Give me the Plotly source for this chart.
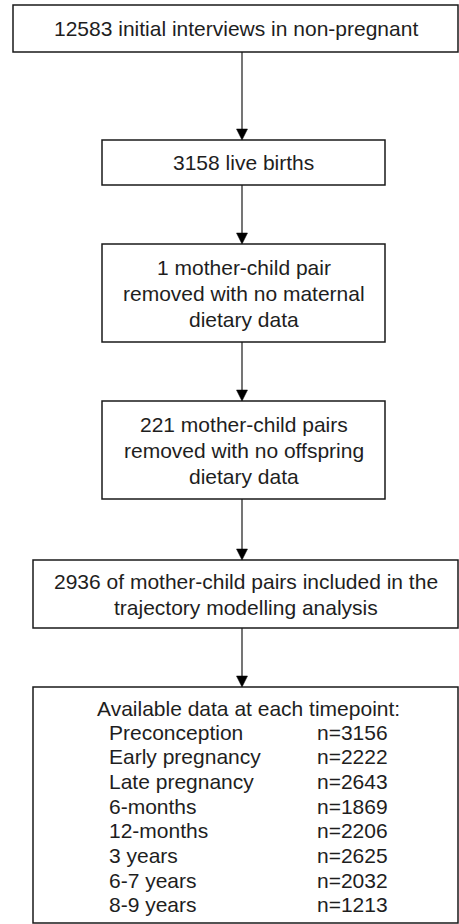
import plotly.graph_objects as go

W, H = 459, 924

# ---- content ----
box_texts = [
    ["12583 initial interviews in non-pregnant"],
    ["3158 live births"],
    ["1 mother-child pair", "removed with no maternal", "dietary data"],
    ["221 mother-child pairs", "removed with no offspring", "dietary data"],
    ["2936 of mother-child pairs included in the", "trajectory modelling analysis"],
]
final_title = "Available data at each timepoint:"
timepoints = ["Preconception", "Early pregnancy", "Late pregnancy", "6-months",
              "12-months", "3 years", "6-7 years", "8-9 years"]
n_values = [3156, 2222, 2643, 1869, 2206, 2625, 2032, 1213]

# ---- layout geometry (pixels) ----
boxes = [  # x0, x1, y0, y1
    (13, 458, 5, 52),
    (102, 385, 140, 185),
    (102, 385, 244, 342),
    (102, 385, 401, 499),
    (33, 458, 560, 628),
    (33, 458, 687, 923),
]
line_h = 26
arrow_x = 242

FONT = "Liberation Sans, Arial, sans-serif"
TXT = "#1e1e1e"
EDGE = "#1a1a1a"

fig = go.Figure()
fig.add_trace(go.Scatter(x=[0, W], y=[0, H], mode="markers",
                         marker=dict(opacity=0), hoverinfo="skip", showlegend=False))

shapes = []
annotations = []
for (x0, x1, y0, y1) in boxes:
    shapes.append(dict(type="rect", x0=x0, x1=x1, y0=y0, y1=y1, xref="x", yref="y",
                       line=dict(color=EDGE, width=1.5), fillcolor="rgba(0,0,0,0)"))

# arrows between consecutive boxes
for i in range(len(boxes) - 1):
    ystart = boxes[i][3]
    yend = boxes[i + 1][2]
    shapes.append(dict(type="line", x0=arrow_x, x1=arrow_x, y0=ystart, y1=yend - 9,
                       xref="x", yref="y", line=dict(color=EDGE, width=1.2)))
    shapes.append(dict(type="path",
                       path=f"M {arrow_x-5.5} {yend-11} L {arrow_x+5.5} {yend-11} L {arrow_x} {yend} Z",
                       xref="x", yref="y", fillcolor="#000", line=dict(color="#000", width=0.5)))

# box texts (centered)
for (x0, x1, y0, y1), lines in zip(boxes[:5], box_texts):
    cx = (x0 + x1) / 2
    cy = (y0 + y1) / 2
    n = len(lines)
    for j, t in enumerate(lines):
        y = cy + (j - (n - 1) / 2) * line_h
        annotations.append(dict(x=cx, y=y, xref="x", yref="y", text=t, showarrow=False,
                                xanchor="center", yanchor="middle",
                                font=dict(family=FONT, size=21, color=TXT)))

# final box
fx0, fx1, fy0, fy1 = boxes[5]
annotations.append(dict(x=(fx0 + fx1) / 2 + 3, y=708, xref="x", yref="y", text=final_title,
                        showarrow=False, xanchor="center", yanchor="middle",
                        font=dict(family=FONT, size=21, color=TXT)))
row_h = 24.7
for k, (lab, nv) in enumerate(zip(timepoints, n_values)):
    y = 732 + k * row_h
    annotations.append(dict(x=107, y=y, xref="x", yref="y", text=lab, showarrow=False,
                            xanchor="left", yanchor="middle",
                            font=dict(family=FONT, size=21, color=TXT)))
    annotations.append(dict(x=315, y=y, xref="x", yref="y", text=f"n={nv}", showarrow=False,
                            xanchor="left", yanchor="middle",
                            font=dict(family=FONT, size=21, color=TXT)))

fig.update_layout(
    width=W, height=H,
    margin=dict(l=0, r=0, t=0, b=0),
    paper_bgcolor="white", plot_bgcolor="white",
    xaxis=dict(range=[0, W], visible=False, fixedrange=True),
    yaxis=dict(range=[H, 0], visible=False, fixedrange=True),
    shapes=shapes, annotations=annotations,
    showlegend=False,
)

fig.write_html("out.html", config={"displayModeBar": False},
               post_script="document.body.style.margin='0';document.body.style.overflow='hidden';")
